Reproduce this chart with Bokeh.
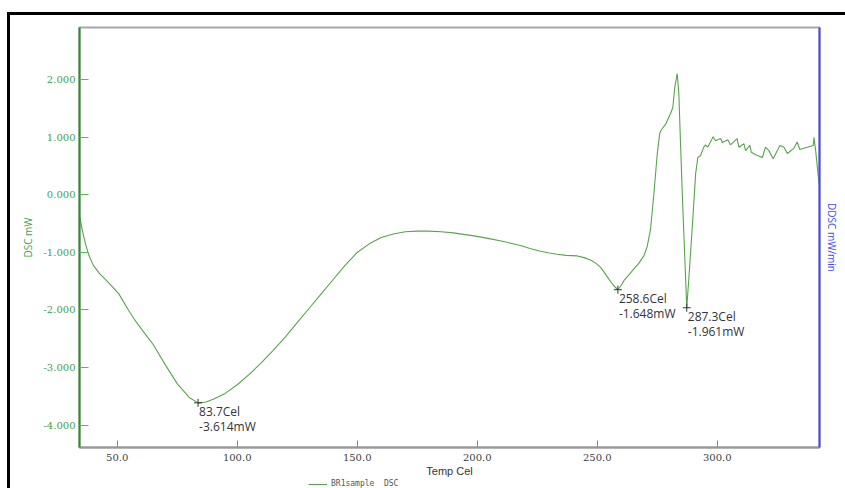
from bokeh.plotting import figure
from bokeh.layouts import column
from bokeh.models import (FixedTicker, NumeralTickFormatter, LinearAxis, Label,
                          Legend, LegendItem, Range1d)
from bokeh.embed import file_html
from bokeh.resources import INLINE

# ---- data ----
temp = [34.4, 35.5, 36.8, 38.2, 40.0, 42.5, 46.5, 50.7, 54.8, 57.6, 61, 65, 70, 75, 80, 83.7,
        87, 90, 95, 100, 105, 110, 115, 120, 125, 130, 135, 140, 145, 150, 155, 160, 165, 170,
        175, 180, 185, 190, 195, 200, 205, 210, 214, 218, 222, 226.4, 230, 233.3, 237, 241.7,
        244.5, 247.2, 249.5, 251.4, 253, 254.8, 256.7, 258.6, 260, 261.1, 263, 265.2, 267.3,
        269.4, 270.8, 272.2, 273.6, 275.0, 276.0, 276.5, 278.5, 280.5, 281.5, 282.3, 283.3,
        284.0, 284.7, 285.7, 286.8, 287.3, 288.2, 289.6, 291.0, 291.9, 293.0, 294.4, 295.1,
        296.0, 298.3, 299.3, 301.4, 302.1, 304.4, 305.5, 308.3, 309.0, 311.1, 311.8, 313.6,
        314.2, 316.0, 318.8, 320.1, 321.5, 323.3, 326.1, 327.8, 329.2, 331.9, 333.3, 334.4,
        337.5, 340.0, 340.3, 341.0, 342.4]
dsc = [-0.38, -0.62, -0.85, -1.05, -1.22, -1.36, -1.53, -1.72, -2.01, -2.19, -2.38, -2.6, -2.95,
       -3.28, -3.52, -3.614, -3.6, -3.55, -3.45, -3.3, -3.12, -2.92, -2.7, -2.47, -2.22, -1.97,
       -1.72, -1.47, -1.22, -1.0, -0.85, -0.74, -0.68, -0.64, -0.63, -0.63, -0.64, -0.66, -0.69,
       -0.72, -0.76, -0.80, -0.84, -0.88, -0.93, -0.98, -1.01, -1.03, -1.05, -1.06, -1.09,
       -1.13, -1.19, -1.26, -1.35, -1.46, -1.57, -1.648, -1.57, -1.49, -1.40, -1.29, -1.19,
       -1.06, -0.9, -0.6, 0.02, 0.71, 1.06, 1.12, 1.23, 1.41, 1.52, 1.87, 2.11,
       1.76, 0.89, -0.27, -1.43, -1.961, -1.43, -0.56, 0.37, 0.65, 0.68, 0.83, 0.87,
       0.83, 1.01, 0.94, 0.98, 0.91, 0.96, 0.87, 0.98, 0.83, 0.89, 0.77, 0.86,
       0.74, 0.70, 0.65, 0.83, 0.77, 0.63, 0.86, 0.83, 0.72, 0.81, 0.92, 0.79,
       0.83, 0.86, 1.0, 0.77, 0.20]

peak_temp = [83.7, 258.6, 287.3]
peak_dsc = [-3.614, -1.648, -1.961]
peak_temp_labels = ["83.7Cel", "258.6Cel", "287.3Cel"]
peak_dsc_labels = ["-3.614mW", "-1.648mW", "-1.961mW"]

x_ticks = [50, 100, 150, 200, 250, 300]
y_ticks = [-4, -3, -2, -1, 0, 1, 2]
series_name = "BR1sample\u00a0 DSC"

GREEN_CURVE = "#5aa34e"
GREEN_AXIS = "#2e8b2e"
GREEN_TEXT = "#3f9f4f"
BLUE = "#4848f0"

p = figure(frame_width=740, frame_height=420, output_backend="svg", toolbar_location=None,
           x_range=Range1d(34.3, 342.6), y_range=Range1d(-4.39, 2.91),
           min_border_left=69, min_border_top=12, min_border_right=26, min_border_bottom=30)
p.xgrid.visible = False
p.ygrid.visible = False
p.outline_line_color = "#a8a8a8"
p.outline_line_width = 2
p.background_fill_color = "white"
p.border_fill_color = "white"

r = p.line(temp, dsc, line_color=GREEN_CURVE, line_width=1.1)
p.scatter(peak_temp, peak_dsc, marker="cross", size=8, line_color="#333333", line_width=1)

for t, v, l1, l2 in zip(peak_temp, peak_dsc, peak_temp_labels, peak_dsc_labels):
    for txt, off in ((l1, -9), (l2, -24)):
        p.add_layout(Label(x=t, y=v, text=txt, x_offset=1, y_offset=off,
                           text_baseline="middle", text_align="left",
                           text_font="Open Sans", text_font_size="12px",
                           text_color="#333340"))

# x axis
xa = p.xaxis[0]
xa.ticker = FixedTicker(ticks=x_ticks)
xa.formatter = NumeralTickFormatter(format="0.0")
xa.axis_line_color = "#999999"
xa.axis_line_width = 2
xa.major_tick_in = 7
xa.major_tick_out = 0
xa.major_tick_line_color = "#888888"
xa.minor_tick_line_color = None
xa.major_label_text_font = "DejaVu Serif"
xa.major_label_text_font_size = "10px"
xa.major_label_text_color = "#404040"
xa.major_label_standoff = 6
xa.axis_label = "Temp Cel"
xa.axis_label_text_font = "Liberation Sans"
xa.axis_label_text_font_size = "11px"
xa.axis_label_text_font_style = "normal"
xa.axis_label_text_color = "#333333"
xa.axis_label_standoff = 1

# y axis
ya = p.yaxis[0]
ya.ticker = FixedTicker(ticks=y_ticks)
ya.formatter = NumeralTickFormatter(format="0.000")
ya.axis_line_color = GREEN_AXIS
ya.axis_line_width = 2
ya.major_tick_in = 9
ya.major_tick_out = 0
ya.major_tick_line_color = "#5cb85c"
ya.minor_tick_line_color = None
ya.major_label_text_font = "DejaVu Serif"
ya.major_label_text_font_size = "10px"
ya.major_label_text_color = GREEN_TEXT
ya.major_label_standoff = 4
ya.axis_label = "DSC mW"
ya.axis_label_text_font = "Open Sans"
ya.axis_label_text_font_size = "10px"
ya.axis_label_text_font_style = "normal"
ya.axis_label_text_color = GREEN_TEXT
ya.axis_label_standoff = 5

# right axis (DDSC)
ra = LinearAxis(ticker=FixedTicker(ticks=[]), axis_label="DDSC mW/min")
ra.axis_line_color = BLUE
ra.axis_line_width = 2
ra.major_tick_line_color = None
ra.minor_tick_line_color = None
ra.major_label_text_font_size = "0px"
ra.axis_label_text_font = "Open Sans"
ra.axis_label_text_font_size = "10px"
ra.axis_label_text_font_style = "normal"
ra.axis_label_text_color = BLUE
ra.axis_label_standoff = 5
p.add_layout(ra, "right")

# legend strip below the chart (its frame is aligned with the chart frame)
p2 = figure(width=835, height=11, output_backend="svg", toolbar_location=None,
            x_range=Range1d(0, 1), y_range=Range1d(0, 1), x_axis_type=None, y_axis_type=None,
            min_border=0, min_border_left=0, min_border_right=0, min_border_top=0,
            min_border_bottom=0)
p2.grid.visible = False
p2.outline_line_color = None
p2.background_fill_color = "white"
p2.border_fill_color = "white"
r2 = p2.line(x=temp[:1], y=dsc[:1], line_color=GREEN_CURVE, line_width=1.1)
legend = Legend(items=[LegendItem(label=series_name, renderers=[r2])],
                location=(229, 2), glyph_width=19, glyph_height=8, label_height=8,
                label_standoff=4, padding=0, margin=0, spacing=0,
                border_line_color=None, background_fill_alpha=0,
                label_text_font="DejaVu Sans Mono", label_text_font_size="8px",
                label_text_color="#555555")
p2.add_layout(legend, "center")

layout = column(p, p2, spacing=0,
                styles={"border-top": "3px solid black", "border-left": "3px solid black",
                        "margin-top": "12px", "margin-left": "7px"})

open("out.html", "w").write(file_html(layout, INLINE))
